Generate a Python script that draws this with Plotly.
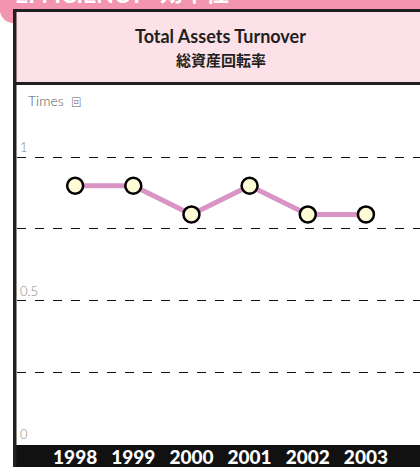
import plotly.graph_objects as go

years = [1998, 1999, 2000, 2001, 2002, 2003]
turnover = [0.90, 0.90, 0.80, 0.90, 0.80, 0.80]
y_tick_vals = [0, 0.25, 0.5, 0.75, 1]
y_tick_text = ["0", "", "0.5", "", "1"]

W, H = 420, 467

def px(x):
    return x / W

def py(y):
    return 1 - y / H

PINK = "#f394b1"
LIGHT_PINK = "#fde1e8"
DARK = "#231f20"

fig = go.Figure()
fig.add_trace(go.Scatter(
    x=years, y=turnover, mode="lines+markers",
    line=dict(color="#d993c4", width=5),
    marker=dict(size=16, color="#fffbd6", line=dict(color="#000000", width=2.5)),
    cliponaxis=False, hoverinfo="skip", showlegend=False,
))

shapes = [
    dict(type="rect", xref="paper", yref="paper", x0=0, x1=1, y0=py(0), y1=py(10.5),
         fillcolor=PINK, line_width=0, layer="below"),
    dict(type="circle", xref="paper", yref="paper", x0=px(0), x1=px(27), y0=py(-3), y1=py(23),
         fillcolor=PINK, line_width=0, layer="below"),
    dict(type="rect", xref="paper", yref="paper", x0=px(13), x1=1, y0=py(10), y1=py(84),
         fillcolor=LIGHT_PINK, line_width=0, layer="below"),
    dict(type="rect", xref="paper", yref="paper", x0=px(13), x1=1, y0=py(84), y1=py(445),
         fillcolor="white", line_width=0, layer="below"),
    dict(type="rect", xref="paper", yref="paper", x0=px(13), x1=1, y0=py(445), y1=py(467),
         fillcolor="#111111", line_width=0, layer="below"),
    dict(type="rect", xref="paper", yref="paper", x0=px(13), x1=1, y0=py(9), y1=py(12),
         fillcolor=DARK, line_width=0, layer="below"),
    dict(type="rect", xref="paper", yref="paper", x0=px(13), x1=1, y0=py(82), y1=py(85),
         fillcolor=DARK, line_width=0, layer="below"),
    dict(type="rect", xref="paper", yref="paper", x0=px(13), x1=px(16.5), y0=py(9), y1=py(467),
         fillcolor=DARK, line_width=0, layer="below"),
]

annotations = [
    dict(text="<b>EFFICIENCY</b>", xref="paper", yref="paper", x=px(13), y=py(10),
         xanchor="left", yanchor="bottom", showarrow=False,
         font=dict(family="Lato", size=23, color="white")),
    dict(text="<b>効率性</b>", xref="paper", yref="paper", x=px(158), y=py(10),
         xanchor="left", yanchor="bottom", showarrow=False,
         font=dict(family="Noto Sans CJK JP", size=23, color="white")),
    dict(text="<b>Total Assets Turnover</b>", xref="paper", yref="paper", x=px(220), y=py(36),
         xanchor="center", yanchor="middle", showarrow=False,
         font=dict(family="Lato", size=18, color="#231f20")),
    dict(text="<b>総資産回転率</b>", xref="paper", yref="paper", x=px(221), y=py(59),
         xanchor="center", yanchor="middle", showarrow=False,
         font=dict(family="Noto Sans CJK JP", size=15, color="#231f20")),
    dict(text="Times  <span style='font-size:10px'>回</span>", xref="paper", yref="paper",
         x=px(26), y=py(100), xanchor="left", yanchor="middle", showarrow=False,
         font=dict(family="Lato, Noto Sans CJK JP", size=14, color="#555555", weight=300)),
]

fig.update_layout(
    width=W, height=H,
    margin=dict(l=0, r=0, t=0, b=0),
    paper_bgcolor="white",
    plot_bgcolor="rgba(0,0,0,0)",
    shapes=shapes,
    annotations=annotations,
    showlegend=False,
    xaxis=dict(
        domain=[px(17), 1],
        range=[1997.0, 2003.93],
        tickvals=years,
        ticktext=[str(y) for y in years],
        showgrid=False, zeroline=False, showline=False, ticks="",
        tickfont=dict(family="Lato", size=19, color="white", weight=900),
        fixedrange=True,
    ),
    yaxis=dict(
        domain=[py(444), py(85)],
        range=[0, 359 / 287],
        tickvals=y_tick_vals,
        ticktext=y_tick_text,
        ticklabelposition="inside top",
        tickfont=dict(family="Lato", size=13, color="#888888", weight=300),
        showgrid=True, gridcolor="#111111", gridwidth=1, griddash="dash",
        zeroline=False, showline=False, ticks="",
        fixedrange=True,
    ),
)

fig.write_html(
    "out.html",
    config={"displayModeBar": False, "staticPlot": True},
    post_script="document.body.style.margin='0';document.body.style.overflow='hidden';",
)
